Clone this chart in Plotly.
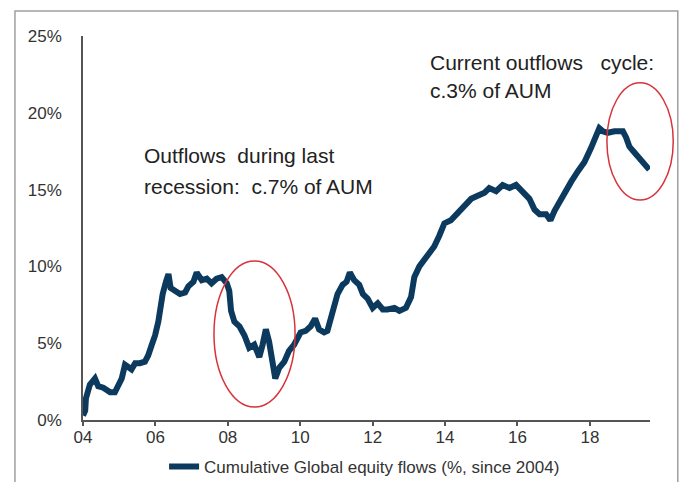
import plotly.graph_objects as go

# Cumulative global equity flows (% of AUM, since 2004)
years = [2004.00, 2004.06, 2004.08, 2004.19, 2004.33, 2004.42, 2004.56, 2004.75, 2004.88, 2004.98,
         2005.07, 2005.16, 2005.25, 2005.34, 2005.44, 2005.57, 2005.71, 2005.80, 2005.90, 2005.99,
         2006.08, 2006.13, 2006.20, 2006.29, 2006.36, 2006.42, 2006.54, 2006.68, 2006.82, 2006.91,
         2007.05, 2007.14, 2007.28, 2007.42, 2007.55, 2007.69, 2007.83, 2007.97, 2008.04, 2008.09,
         2008.18, 2008.32, 2008.46, 2008.59, 2008.73, 2008.87, 2008.96, 2009.05, 2009.14, 2009.23,
         2009.31, 2009.42, 2009.56, 2009.69, 2009.83, 2010.01, 2010.15, 2010.29, 2010.41, 2010.52,
         2010.66, 2010.75, 2010.89, 2011.03, 2011.17, 2011.28, 2011.37, 2011.49, 2011.63, 2011.73,
         2011.86, 2012.00, 2012.14, 2012.28, 2012.41, 2012.60, 2012.74, 2012.92, 2013.06, 2013.15,
         2013.29, 2013.43, 2013.57, 2013.70, 2013.84, 2013.98, 2014.16, 2014.35, 2014.53, 2014.72,
         2014.90, 2015.09, 2015.22, 2015.41, 2015.59, 2015.78, 2015.96, 2016.15, 2016.33, 2016.47,
         2016.61, 2016.79, 2016.91, 2017.02, 2017.16, 2017.30, 2017.48, 2017.67, 2017.85, 2018.03,
         2018.17, 2018.26, 2018.36, 2018.49, 2018.68, 2018.91, 2019.00, 2019.09, 2019.20, 2019.37,
         2019.50, 2019.64]
flows = [0.3, 0.6, 1.4, 2.3, 2.7, 2.2, 2.1, 1.8, 1.8, 2.4,
         2.7, 3.6, 3.5, 3.3, 3.7, 3.7, 3.8, 4.2, 4.9, 5.5,
         6.4, 7.3, 8.2, 9.0, 9.5, 8.6, 8.4, 8.2, 8.3, 8.7,
         9.0, 9.6, 9.1, 9.2, 8.9, 9.2, 9.3, 8.9, 8.4, 7.1,
         6.4, 6.1, 5.5, 4.7, 4.9, 4.1, 4.9, 5.9, 5.1, 3.6,
         2.7, 3.4, 3.8, 4.5, 4.9, 5.7, 5.8, 6.1, 6.6, 5.9,
         5.7, 5.8, 7.1, 8.2, 8.8, 9.0, 9.6, 9.1, 8.8, 8.2,
         7.9, 7.3, 7.6, 7.2, 7.2, 7.3, 7.1, 7.3, 8.0, 9.3,
         10.0, 10.4, 10.9, 11.3, 12.0, 12.8, 13.0, 13.5, 14.0, 14.4,
         14.6, 14.8, 15.1, 14.9, 15.3, 15.1, 15.3, 14.8, 14.4, 13.7,
         13.4, 13.4, 13.0, 13.6, 14.2, 14.9, 15.5, 16.2, 16.8, 17.7,
         18.5, 19.0, 18.8, 18.7, 18.8, 18.8, 18.4, 17.8, 17.5, 17.0,
         16.6, 16.3]

x_tickvals = [2004, 2006, 2008, 2010, 2012, 2014, 2016, 2018]
x_ticktext = ["04", "06", "08", "10", "12", "14", "16", "18"]
y_tickvals = [0, 5, 10, 15, 20, 25]
y_ticktext = ["0%", "5%", "10%", "15%", "20%", "25%"]

series_name = "Cumulative Global equity flows (%, since 2004)"
note_left = ["Outflows\u00a0\u00a0during last", "recession:\u00a0\u00a0c.7% of AUM"]
note_right = ["Current\u00a0outflows\u00a0\u00a0\u00a0cycle:", "c.3% of AUM"]

LINE = "#0c3a5e"
RED = "#d8323a"
FONT = "Liberation Sans, Arial, sans-serif"

fig = go.Figure()
fig.add_trace(go.Scatter(
    x=years, y=flows, mode="lines", name=series_name,
    line=dict(color=LINE, width=6), showlegend=True, cliponaxis=True,
))

fig.update_layout(
    width=683, height=482,
    margin=dict(l=83, r=33, t=36, b=62, autoexpand=False),
    paper_bgcolor="white", plot_bgcolor="white",
    font=dict(family=FONT, size=17, color="#333333"),
    showlegend=True,
    legend=dict(orientation="h", x=0.143, xanchor="left", y=-0.122, yanchor="middle",
                font=dict(size=17, color="#333333"), bgcolor="rgba(0,0,0,0)"),
    xaxis=dict(range=[2004, 2019.66], tickvals=x_tickvals, ticktext=x_ticktext,
               showgrid=False, zeroline=False, showline=True, linecolor="#555555", linewidth=1.5,
               ticks="outside", ticklen=4, tickcolor="#555555", tickwidth=1.5,
               ticklabelstandoff=-3, automargin=False, tickfont=dict(size=17, color="#333333")),
    yaxis=dict(range=[0, 25], tickvals=y_tickvals, ticktext=y_ticktext,
               showgrid=False, zeroline=False, showline=True, linecolor="#555555", linewidth=1.5,
               ticks="", ticklabelstandoff=16, automargin=False,
               tickfont=dict(size=17, color="#333333")),
)

# Frame around the chart
fig.add_shape(type="rect", xref="paper", yref="paper", x0=-0.120, x1=1.049, y0=-0.20, y1=1.065,
              line=dict(color="#a0a0a0", width=1.5), layer="below")

# Highlight ellipses
fig.add_shape(type="circle", xref="paper", yref="paper", x0=0.231, x1=0.374, y0=0.034, y1=0.414,
              line=dict(color=RED, width=1.5))
fig.add_shape(type="circle", xref="paper", yref="paper", x0=0.924, x1=1.041, y0=0.573, y1=0.878,
              line=dict(color=RED, width=1.5))

for txt, yy in zip(note_left, [0.690, 0.607]):
    fig.add_annotation(text=txt, xref="paper", yref="paper", x=0.104, y=yy, xanchor="left",
                       yanchor="middle", showarrow=False, font=dict(size=21, color="#222222"))
for txt, yy in zip(note_right, [0.930, 0.857]):
    fig.add_annotation(text=txt, xref="paper", yref="paper", x=0.608, y=yy, xanchor="left",
                       yanchor="middle", showarrow=False, font=dict(size=21, color="#222222"))

fig.write_html("out.html", config={"displayModeBar": False},
               post_script="document.body.style.margin='0px';")
